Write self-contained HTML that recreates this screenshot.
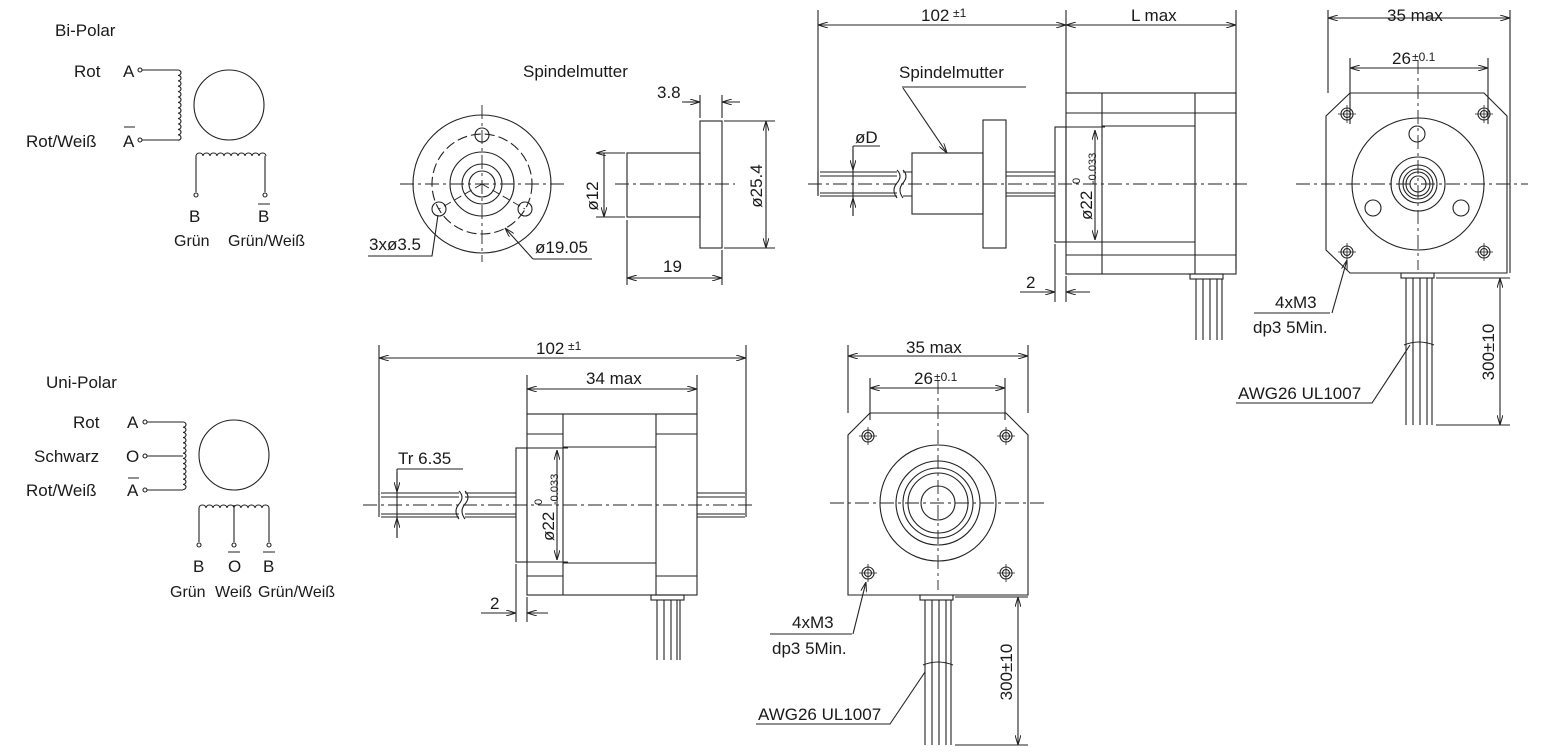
<!DOCTYPE html>
<html><head><meta charset="utf-8"><style>
html,body{margin:0;padding:0;background:#fff}
svg{display:block}
text{font-family:"Liberation Sans",sans-serif;fill:#1a1a1a}
</style></head><body>
<svg width="1548" height="756" viewBox="0 0 1548 756" xmlns="http://www.w3.org/2000/svg">
<defs>
<marker id="ar" viewBox="0 0 10 6" refX="10" refY="3" markerWidth="10" markerHeight="6" orient="auto-start-reverse" markerUnits="userSpaceOnUse"><path d="M0,0 L10,3 L0,6" fill="none" stroke="#222" stroke-width="1"/></marker>
</defs>
<g stroke="#222" stroke-width="1.1" fill="none">

<!-- ===== Bi-Polar wiring ===== -->
<circle cx="229" cy="105" r="35"/>
<circle cx="140" cy="70" r="2"/><circle cx="140" cy="140" r="2"/>
<path d="M142,70 H178 M142,140 H178"/>
<path d="M178,70 a3,2.7 0 0 1 0,5.4 a3,2.7 0 0 1 0,5.4 a3,2.7 0 0 1 0,5.4 a3,2.7 0 0 1 0,5.4 a3,2.7 0 0 1 0,5.4 a3,2.7 0 0 1 0,5.4 a3,2.7 0 0 1 0,5.4 a3,2.7 0 0 1 0,5.4 a3,2.7 0 0 1 0,5.4 a3,2.7 0 0 1 0,5.4 a3,2.7 0 0 1 0,5.4 a3,2.7 0 0 1 0,5.4 a3,2.7 0 0 1 0,5.4"/>
<path d="M196,156 a3.5,3 0 0 1 7,0 a3.5,3 0 0 1 7,0 a3.5,3 0 0 1 7,0 a3.5,3 0 0 1 7,0 a3.5,3 0 0 1 7,0 a3.5,3 0 0 1 7,0 a3.5,3 0 0 1 7,0 a3.5,3 0 0 1 7,0 a3.5,3 0 0 1 7,0 a3.5,3 0 0 1 7,0"/>
<path d="M196,156 V192 M265,156 V192"/>
<circle cx="196" cy="195" r="2"/><circle cx="265" cy="195" r="2"/>
<path d="M124,127 H135 M258,204 H270"/>

<!-- ===== Uni-Polar wiring ===== -->
<circle cx="234" cy="455" r="35"/>
<circle cx="145" cy="422" r="2"/><circle cx="145" cy="456" r="2"/><circle cx="145" cy="490" r="2"/>
<path d="M147,422 H183 M147,456 H183 M147,490 H183"/>
<path d="M183,422 a3,2.6 0 0 1 0,5.2 a3,2.6 0 0 1 0,5.2 a3,2.6 0 0 1 0,5.2 a3,2.6 0 0 1 0,5.2 a3,2.6 0 0 1 0,5.2 a3,2.6 0 0 1 0,5.2 a3,2.6 0 0 1 0,5.2 a3,2.6 0 0 1 0,5.2 a3,2.6 0 0 1 0,5.2 a3,2.6 0 0 1 0,5.2 a3,2.6 0 0 1 0,5.2 a3,2.6 0 0 1 0,5.2 a3,2.6 0 0 1 0,5.2"/>
<path d="M199,508 a3.5,3 0 0 1 7,0 a3.5,3 0 0 1 7,0 a3.5,3 0 0 1 7,0 a3.5,3 0 0 1 7,0 a3.5,3 0 0 1 7,0 a3.5,3 0 0 1 7,0 a3.5,3 0 0 1 7,0 a3.5,3 0 0 1 7,0 a3.5,3 0 0 1 7,0 a3.5,3 0 0 1 7,0"/>
<path d="M199,508 V542 M234,505 V542 M269,508 V542"/>
<circle cx="199" cy="545" r="2"/><circle cx="234" cy="545" r="2"/><circle cx="269" cy="545" r="2"/>
<path d="M128,478 H139 M228,552 H240 M263,552 H275"/>

<!-- ===== Spindelmutter front ===== -->
<path d="M400,184 H565 M482,105 V262" stroke-dasharray="14,4,3,4" stroke-width="0.9"/>
<circle cx="482" cy="184" r="69"/>
<circle cx="482" cy="184" r="50" stroke-dasharray="10,4"/>
<circle cx="482" cy="184" r="32"/>
<circle cx="482" cy="184" r="20"/>
<circle cx="482" cy="184" r="13"/>
<circle cx="482" cy="135" r="7"/><circle cx="439" cy="209" r="7"/><circle cx="525" cy="209" r="7"/>
<path d="M482,184 L439,209 M482,184 L525,209" stroke-dasharray="8,4" stroke-width="0.9"/>
<path d="M368,256 H432 L438,215" /><path d="M533,259 H592 M533,259 L505,228" marker-end="url(#ar)"/>

<!-- ===== Spindelmutter side ===== -->
<rect x="627" y="153" width="73" height="64"/>
<rect x="700" y="121" width="22" height="127"/>
<path d="M615,184 H735" stroke-dasharray="14,4,3,4" stroke-width="0.9"/>
<path d="M700,95 V118 M722,95 V118 M682,102 H700" /><path d="M686,102 H700" marker-end="url(#ar)"/><path d="M740,102 H722" marker-end="url(#ar)"/>
<path d="M596,153 H625 M596,217 H625 M604,153 V217" marker-start="url(#ar)" marker-end="url(#ar)"/>
<path d="M724,121 H775 M724,248 H775"/><path d="M766,121 V248" marker-start="url(#ar)" marker-end="url(#ar)"/>
<path d="M627,220 V285 M722,250 V285"/><path d="M627,278 H722" marker-start="url(#ar)" marker-end="url(#ar)"/>

<!-- ===== Top side view ===== -->
<path d="M808,184 H1250" stroke-dasharray="14,4,3,4" stroke-width="0.9"/>
<path d="M818,10 V195 M1066,10 V93 M1236,10 V270"/>
<path d="M818,25 H1066" marker-start="url(#ar)" marker-end="url(#ar)"/>
<path d="M1066,25 H1236" marker-start="url(#ar)" marker-end="url(#ar)"/>
<rect x="1066" y="93" width="170" height="181"/>
<path d="M1066,113 H1236 M1066,255 H1236 M1102,93 V274 M1195,93 V274"/>
<path d="M1102,126 H1195 M1102,242 H1195"/>
<rect x="1055" y="127" width="11" height="115"/>
<path d="M1066,127 H1105 M1066,242 H1105"/>
<path d="M1095,130 V240" marker-start="url(#ar)" marker-end="url(#ar)"/>
<path d="M820,172 H897 M820,196 H897 M820,176 H897 M820,193 H897 M818,172 V196"/>
<path d="M897,170 q6,6 0,13 q-6,7 0,15 M903,170 q6,6 0,13 q-6,7 0,15"/>
<path d="M903,172 H912 M903,196 H912"/>
<rect x="912" y="153" width="71" height="61"/>
<rect x="983" y="120" width="23" height="128"/>
<path d="M1006,172 H1055 M1006,196 H1055 M1006,176 H1055 M1006,193 H1055"/>
<path d="M853,146 H880 M853,146 V216"/><path d="M853,150 V170" marker-end="url(#ar)"/><path d="M853,216 V198" marker-end="url(#ar)"/>
<path d="M902,87 H1026"/><path d="M903,88 L947,153" marker-end="url(#ar)"/>
<path d="M1055,244 V302 M1066,276 V302"/>
<path d="M1020,292 H1055" marker-end="url(#ar)"/><path d="M1090,292 H1066" marker-end="url(#ar)"/>
<rect x="1190" y="274" width="33" height="5"/>
<path d="M1196,279 V340 M1203,279 V340 M1210,279 V340 M1217,279 V340 M1222,279 V340"/>

<!-- ===== Top front view ===== -->
<path d="M1296,184 H1528 M1418,60 V270" stroke-dasharray="14,4,3,4" stroke-width="0.9"/>
<path d="M1350,93 H1484 L1507,116 V273 H1350 L1326,250 V116 Z"/>
<path d="M1328,10 V93 M1510,10 V273"/>
<path d="M1328,18 H1510" marker-start="url(#ar)" marker-end="url(#ar)"/>
<path d="M1350,58 V124 M1488,58 V124"/>
<path d="M1350,68 H1488" marker-start="url(#ar)" marker-end="url(#ar)"/>
<circle cx="1418" cy="184" r="66"/>
<circle cx="1418" cy="184" r="27"/>
<circle cx="1418" cy="184" r="19"/><circle cx="1418" cy="184" r="15"/><circle cx="1418" cy="184" r="12"/><circle cx="1418" cy="184" r="8"/>
<circle cx="1417" cy="134" r="8"/><circle cx="1373" cy="208" r="8"/><circle cx="1461" cy="208" r="8"/>
<g><circle cx="1347" cy="114" r="6"/><circle cx="1347" cy="114" r="3.5"/><circle cx="1484" cy="114" r="6"/><circle cx="1484" cy="114" r="3.5"/><circle cx="1347" cy="252" r="6"/><circle cx="1347" cy="252" r="3.5"/><circle cx="1484" cy="252" r="6"/><circle cx="1484" cy="252" r="3.5"/></g>
<path d="M1338,114 H1356 M1347,105 V123 M1475,114 H1493 M1484,105 V123 M1338,252 H1356 M1347,243 V261 M1475,252 H1493 M1484,243 V261" stroke-width="0.8"/>
<rect x="1401" y="273" width="33" height="5"/>
<path d="M1406,278 V425 M1413,278 V425 M1420,278 V425 M1427,278 V425 M1432,278 V425"/>
<path d="M1404,345 q15,-6 30,0"/>
<path d="M1436,278 H1510 M1436,425 H1510"/>
<path d="M1500,278 V425" marker-start="url(#ar)" marker-end="url(#ar)"/>
<path d="M1254,313 H1330"/><path d="M1332,313 L1347,260" marker-end="url(#ar)"/>
<path d="M1236,403 H1372 L1410,345" />

<!-- ===== Bottom side view ===== -->
<path d="M363,505 H755" stroke-dasharray="14,4,3,4" stroke-width="0.9"/>
<path d="M379,345 V495 M746,345 V495 M527,375 V414 M697,375 V414"/>
<path d="M379,358 H746" marker-start="url(#ar)" marker-end="url(#ar)"/>
<path d="M527,389 H697" marker-start="url(#ar)" marker-end="url(#ar)"/>
<rect x="527" y="414" width="170" height="181"/>
<path d="M527,434 H563 M527,576 H563 M656,434 H697 M656,576 H697 M563,414 V595 M656,414 V595 M563,447 H656 M563,563 H656"/>
<rect x="516" y="448" width="11" height="114"/>
<path d="M527,448 H568 M527,562 H568"/>
<path d="M557,450 V560" marker-start="url(#ar)" marker-end="url(#ar)"/>
<path d="M381,493 H459 M381,517 H459 M381,497 H459 M381,514 H459 M379,493 V517"/>
<path d="M459,491 q6,6 0,13 q-6,7 0,15 M465,491 q6,6 0,13 q-6,7 0,15"/>
<path d="M465,493 H516 M465,517 H516 M465,497 H516 M465,514 H516"/>
<path d="M697,493 H745 M697,517 H745 M697,497 H745 M697,514 H745 M746,493 V517"/>
<path d="M397,469 H463 M397,469 V538"/><path d="M397,472 V492" marker-end="url(#ar)"/><path d="M397,538 V518" marker-end="url(#ar)"/>
<path d="M516,564 V622 M527,597 V622"/>
<path d="M481,613 H516" marker-end="url(#ar)"/><path d="M548,613 H527" marker-end="url(#ar)"/>
<rect x="651" y="595" width="33" height="5"/>
<path d="M657,600 V660 M664,600 V660 M671,600 V660 M677,600 V660 M680,600 V660"/>

<!-- ===== Bottom front view ===== -->
<path d="M830,503 H1045 M938,380 V590" stroke-dasharray="14,4,3,4" stroke-width="0.9"/>
<path d="M870,413 H1006 L1028,435 V595 H848 V435 Z"/>
<path d="M848,345 V413 M1028,345 V413 M870,378 V420 M1005,378 V420"/>
<path d="M848,356 H1028" marker-start="url(#ar)" marker-end="url(#ar)"/>
<path d="M870,388 H1005" marker-start="url(#ar)" marker-end="url(#ar)"/>
<circle cx="938" cy="503" r="58"/><circle cx="938" cy="503" r="42"/><circle cx="938" cy="503" r="35"/><circle cx="938" cy="503" r="30"/><circle cx="938" cy="503" r="17"/>
<circle cx="868" cy="436" r="6"/><circle cx="868" cy="436" r="3.5"/><circle cx="1006" cy="436" r="6"/><circle cx="1006" cy="436" r="3.5"/><circle cx="868" cy="573" r="6"/><circle cx="868" cy="573" r="3.5"/><circle cx="1006" cy="573" r="6"/><circle cx="1006" cy="573" r="3.5"/>
<path d="M859,436 H877 M868,427 V445 M997,436 H1015 M1006,427 V445 M859,573 H877 M868,564 V582 M997,573 H1015 M1006,564 V582" stroke-width="0.8"/>
<rect x="920" y="595" width="33" height="5"/>
<path d="M925,600 V745 M932,600 V745 M939,600 V745 M946,600 V745 M951,600 V745"/>
<path d="M923,665 q15,-6 30,0"/>
<path d="M955,597 H1028 M955,745 H1028"/>
<path d="M1018,597 V745" marker-start="url(#ar)" marker-end="url(#ar)"/>
<path d="M770,634 H852"/><path d="M853,634 L866,582" marker-end="url(#ar)"/>
<path d="M756,724 H890 L925,672"/>
</g>

<g font-size="17">
<text x="55" y="36">Bi-Polar</text>
<text x="74" y="77">Rot</text><text x="123" y="77">A</text>
<text x="26" y="147">Rot/Weiß</text><text x="123" y="147">A</text>
<text x="189" y="222">B</text><text x="258" y="222">B</text>
<text x="174" y="246" font-size="16">Grün</text><text x="228" y="246" font-size="16">Grün/Weiß</text>

<text x="46" y="388">Uni-Polar</text>
<text x="73" y="428">Rot</text><text x="127" y="428">A</text>
<text x="34" y="462">Schwarz</text><text x="126" y="462">O</text>
<text x="26" y="496">Rot/Weiß</text><text x="127" y="496">A</text>
<text x="193" y="572">B</text><text x="228" y="572">O</text><text x="263" y="572">B</text>
<text x="170" y="597" font-size="16">Grün</text><text x="215" y="597" font-size="16">Weiß</text><text x="258" y="597" font-size="16">Grün/Weiß</text>

<text x="523" y="77">Spindelmutter</text>
<text x="369" y="250">3xø3.5</text>
<text x="535" y="253">ø19.05</text>
<text x="657" y="98">3.8</text>
<text x="598" y="196" transform="rotate(-90 598 196)" text-anchor="middle" dy="0">ø12</text>
<text x="762" y="186" transform="rotate(-90 762 186)" text-anchor="middle">ø25.4</text>
<text x="663" y="272">19</text>

<text x="921" y="21">102</text><text x="953" y="17" font-size="12">±1</text>
<text x="1131" y="21">L max</text>
<text x="899" y="78">Spindelmutter</text>
<text x="855" y="143">øD</text>
<text x="1092" y="220" transform="rotate(-90 1092 220)">ø22</text>
<text x="1080" y="184" font-size="11" transform="rotate(-90 1080 184)">0</text>
<text x="1096" y="184" font-size="11" transform="rotate(-90 1096 184)">-0.033</text>
<text x="1026" y="288">2</text>

<text x="1387" y="21">35 max</text>
<text x="1392" y="64">26</text><text x="1412" y="61" font-size="12">±0.1</text>
<text x="1275" y="308">4xM3</text>
<text x="1253" y="333">dp3 5Min.</text>
<text x="1238" y="399">AWG26 UL1007</text>
<text x="1494" y="352" transform="rotate(-90 1494 352)" text-anchor="middle">300±10</text>

<text x="536" y="354">102</text><text x="568" y="350" font-size="12">±1</text>
<text x="586" y="384">34 max</text>
<text x="398" y="464">Tr 6.35</text>
<text x="554" y="541" transform="rotate(-90 554 541)">ø22</text>
<text x="542" y="505" font-size="11" transform="rotate(-90 542 505)">0</text>
<text x="558" y="505" font-size="11" transform="rotate(-90 558 505)">-0.033</text>
<text x="490" y="609">2</text>

<text x="906" y="353">35 max</text>
<text x="914" y="384">26</text><text x="934" y="381" font-size="12">±0.1</text>
<text x="792" y="628">4xM3</text>
<text x="772" y="654">dp3 5Min.</text>
<text x="758" y="720">AWG26 UL1007</text>
<text x="1012" y="672" transform="rotate(-90 1012 672)" text-anchor="middle">300±10</text>
</g>
</svg>
</body></html>
